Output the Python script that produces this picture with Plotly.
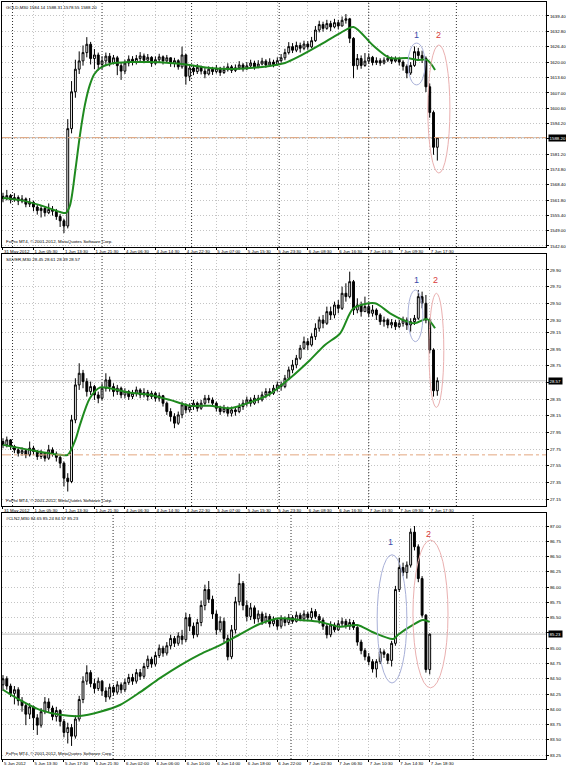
import plotly.graph_objects as go

W, H = 566, 768

# ---------------- DATA ----------------
time_labels_metals = ["31 May 2012", "1 Jun 05:30", "1 Jun 13:30", "1 Jun 21:30", "4 Jun 06:30",
                      "4 Jun 14:30", "4 Jun 22:30", "5 Jun 07:00", "5 Jun 15:30", "5 Jun 23:30",
                      "6 Jun 08:30", "6 Jun 16:30", "7 Jun 01:30", "7 Jun 09:30", "7 Jun 17:30"]
time_labels_crude = ["5 Jun 2012", "5 Jun 13:30", "5 Jun 17:30", "5 Jun 21:30", "6 Jun 02:00",
                     "6 Jun 06:00", "6 Jun 10:00", "6 Jun 14:00", "6 Jun 18:00", "6 Jun 22:00",
                     "7 Jun 02:30", "7 Jun 06:30", "7 Jun 10:30", "7 Jun 14:30", "7 Jun 18:30"]
time_label_bars = [0, 8, 16, 24, 32, 40, 48, 56, 64, 72, 80, 88, 96, 104, 112]
day_breaks_metals = [2.5, 26, 49.5, 72.5, 96, 119]
day_breaks_crude = [28.9, 75.6, 123.4]

# GOLD
gold_open0 = 1563.5
gold_close = [1562.5, 1563.8, 1562.0, 1563.0, 1561.5, 1562.4, 1560.2, 1561.0, 1559.0, 1557.5,
              1558.4, 1556.6, 1558.0, 1557.2, 1555.0, 1553.2, 1551.0, 1592.0, 1607.5, 1617.0,
              1620.5, 1624.0, 1627.5, 1621.5, 1623.0, 1619.0, 1620.5, 1622.5, 1619.8, 1621.8,
              1618.5, 1616.2, 1619.6, 1621.2, 1620.0, 1621.5, 1622.6, 1620.8, 1622.0, 1619.5,
              1621.0, 1622.2, 1620.5, 1621.8, 1619.4, 1620.6, 1618.0, 1623.0, 1614.0, 1617.5,
              1616.0, 1617.8, 1616.2, 1615.0, 1617.0, 1616.0, 1617.4, 1615.6, 1616.8, 1618.0,
              1616.5, 1617.6, 1618.8, 1617.2, 1618.4, 1619.6, 1618.0, 1619.2, 1620.4, 1618.8,
              1620.0, 1619.0, 1620.6, 1621.8, 1624.0, 1626.5, 1625.0, 1627.0, 1625.8, 1627.6,
              1626.4, 1629.0, 1633.5, 1635.8, 1634.2, 1636.2, 1634.8, 1636.6, 1635.2, 1637.6,
              1638.2, 1630.0, 1618.5, 1621.5, 1618.6, 1620.4, 1622.0, 1619.8, 1620.6, 1619.6,
              1620.8, 1621.6, 1620.4, 1621.2, 1620.0, 1618.2, 1615.4, 1618.6, 1624.4, 1622.8,
              1621.6, 1609.6, 1598.8, 1584.14, 1588.20]
gold_high = [1565.0, 1566.2, 1564.5, 1564.8, 1563.9, 1564.0, 1563.0, 1562.8, 1561.6, 1560.2,
             1559.8, 1559.2, 1560.5, 1559.4, 1558.2, 1556.0, 1554.0, 1596.0, 1612.0, 1621.0,
             1624.5, 1627.0, 1630.5, 1628.5, 1625.5, 1624.0, 1622.5, 1624.0, 1623.8, 1623.0,
             1622.6, 1620.0, 1621.0, 1622.8, 1622.5, 1623.0, 1624.2, 1623.6, 1623.4, 1622.5,
             1622.4, 1623.5, 1622.8, 1623.0, 1622.0, 1621.8, 1621.2, 1626.5, 1623.5, 1619.0,
             1618.6, 1619.2, 1618.5, 1617.5, 1618.2, 1618.0, 1618.8, 1618.0, 1618.4, 1619.5,
             1618.8, 1619.0, 1620.4, 1619.6, 1620.0, 1621.0, 1620.6, 1620.8, 1621.8, 1621.2,
             1621.6, 1621.0, 1622.0, 1623.4, 1625.6, 1628.4, 1628.0, 1628.6, 1628.2, 1629.0,
             1628.8, 1630.6, 1635.2, 1637.4, 1637.0, 1637.8, 1637.4, 1638.2, 1637.8, 1639.2,
             1640.2, 1638.6, 1630.5, 1623.4, 1622.8, 1623.8, 1623.6, 1622.6, 1622.0, 1621.6,
             1622.0, 1623.0, 1622.4, 1622.4, 1622.0, 1620.8, 1619.0, 1620.0, 1626.6, 1626.0,
             1624.8, 1622.4, 1611.0, 1599.6, 1588.31]
gold_low = [1561.0, 1561.8, 1560.5, 1561.2, 1559.8, 1560.6, 1558.9, 1559.0, 1557.2, 1555.8,
            1554.6, 1555.0, 1556.0, 1555.4, 1553.6, 1550.6, 1548.0, 1550.0, 1590.0, 1605.0,
            1615.0, 1618.5, 1622.0, 1619.0, 1617.0, 1616.5, 1617.0, 1618.8, 1618.2, 1619.0,
            1614.5, 1612.5, 1615.0, 1618.2, 1618.6, 1619.0, 1620.2, 1619.5, 1620.0, 1618.0,
            1618.8, 1620.0, 1619.0, 1620.0, 1618.0, 1617.8, 1616.8, 1617.2, 1610.5, 1612.0,
            1614.5, 1615.0, 1614.8, 1613.2, 1614.4, 1614.6, 1615.2, 1614.2, 1615.0, 1616.0,
            1615.4, 1615.8, 1616.8, 1616.0, 1616.6, 1617.8, 1616.8, 1617.4, 1618.6, 1617.6,
            1618.2, 1617.8, 1618.5, 1619.8, 1620.8, 1623.2, 1623.8, 1624.2, 1624.0, 1625.0,
            1625.2, 1625.8, 1628.5, 1632.5, 1632.8, 1633.6, 1633.0, 1634.2, 1633.8, 1635.0,
            1636.2, 1628.0, 1613.2, 1616.8, 1617.2, 1618.0, 1619.2, 1618.6, 1618.8, 1618.4,
            1619.0, 1620.0, 1619.2, 1619.8, 1618.6, 1616.4, 1613.2, 1614.6, 1618.0, 1621.0,
            1619.6, 1607.4, 1596.6, 1581.0, 1578.55]
gold_ma_bar = [0, 4.5, 9.7, 15, 16.5, 17.6, 19, 20.2, 21.5, 22.8, 24, 25.5, 28, 33, 38.6, 43.8,
               49, 54.3, 59.6, 64.8, 70, 74, 78, 83.2, 88.5, 92, 97, 101.6, 106, 108.7, 111.3, 113.4]
gold_ma = [1562.8, 1561.9, 1559.8, 1556.9, 1556.5, 1559.8, 1574.6, 1589.3, 1602.0, 1610.4,
           1615.0, 1617.5, 1619.2, 1620.0, 1620.0, 1619.6, 1618.8, 1617.5, 1617.1, 1617.5,
           1618.4, 1619.6, 1622.6, 1627.2, 1632.2, 1634.8, 1627.2, 1621.7, 1621.7, 1620.9,
           1620.9, 1616.7]
gold_ticks = [1639.40, 1632.80, 1626.40, 1620.00, 1613.60, 1607.00, 1600.60, 1594.20, 1587.80,
              1581.20, 1574.80, 1568.40, 1561.80, 1555.40, 1549.00, 1542.60]
gold_level = 1588.20

# SILVER
silver_open0 = 27.84
silver_close = [27.80, 27.86, 27.78, 27.74, 27.70, 27.73, 27.68, 27.76, 27.72, 27.66,
                27.70, 27.64, 27.74, 27.69, 27.65, 27.58, 27.40, 27.36, 28.10, 28.52,
                28.66, 28.56, 28.44, 28.50, 28.40, 28.36, 28.48, 28.58, 28.50, 28.44,
                28.48, 28.40, 28.44, 28.38, 28.42, 28.46, 28.40, 28.43, 28.38, 28.42,
                28.36, 28.39, 28.30, 28.20, 28.14, 28.06, 28.16, 28.28, 28.22, 28.26,
                28.30, 28.24, 28.30, 28.36, 28.34, 28.30, 28.24, 28.20, 28.24, 28.18,
                28.22, 28.20, 28.26, 28.30, 28.34, 28.30, 28.36, 28.34, 28.40, 28.44,
                28.42, 28.48, 28.52, 28.50, 28.60, 28.70, 28.76, 28.84, 28.96, 29.04,
                29.00, 29.10, 29.20, 29.30, 29.26, 29.40, 29.36, 29.48, 29.44, 29.62,
                29.58, 29.76, 29.42, 29.48, 29.40, 29.46, 29.38, 29.42, 29.36, 29.28,
                29.30, 29.24, 29.27, 29.22, 29.26, 29.30, 29.24, 29.28, 29.32, 29.58,
                29.50, 29.30, 28.94, 28.45, 28.57]
silver_high = [27.88, 27.90, 27.87, 27.80, 27.76, 27.77, 27.75, 27.84, 27.79, 27.74,
               27.74, 27.71, 27.80, 27.77, 27.72, 27.67, 27.60, 27.46, 28.16, 28.60,
               28.78, 28.70, 28.60, 28.56, 28.52, 28.44, 28.54, 28.66, 28.62, 28.54,
               28.52, 28.50, 28.48, 28.46, 28.46, 28.50, 28.48, 28.48, 28.46, 28.45,
               28.44, 28.43, 28.40, 28.32, 28.24, 28.18, 28.20, 28.32, 28.30, 28.30,
               28.34, 28.32, 28.34, 28.40, 28.40, 28.37, 28.32, 28.27, 28.28, 28.26,
               28.26, 28.25, 28.30, 28.34, 28.38, 28.37, 28.40, 28.40, 28.44, 28.48,
               28.48, 28.52, 28.56, 28.56, 28.64, 28.74, 28.82, 28.88, 29.00, 29.10,
               29.08, 29.14, 29.26, 29.34, 29.36, 29.46, 29.46, 29.52, 29.54, 29.70,
               29.74, 29.88, 29.78, 29.56, 29.52, 29.58, 29.50, 29.48, 29.44, 29.38,
               29.34, 29.32, 29.31, 29.30, 29.30, 29.34, 29.33, 29.32, 29.36, 29.66,
               29.64, 29.60, 29.32, 28.96, 28.61]
silver_low = [27.76, 27.77, 27.74, 27.70, 27.66, 27.67, 27.64, 27.66, 27.68, 27.62,
              27.63, 27.60, 27.62, 27.66, 27.60, 27.52, 27.30, 27.24, 27.34, 28.06,
              28.46, 28.48, 28.38, 28.40, 28.34, 28.30, 28.34, 28.44, 28.44, 28.38,
              28.40, 28.36, 28.36, 28.34, 28.35, 28.38, 28.36, 28.37, 28.33, 28.35,
              28.32, 28.32, 28.26, 28.16, 28.08, 28.00, 28.04, 28.12, 28.18, 28.19,
              28.22, 28.20, 28.22, 28.28, 28.30, 28.26, 28.20, 28.16, 28.18, 28.14,
              28.14, 28.15, 28.18, 28.22, 28.26, 28.26, 28.28, 28.30, 28.32, 28.36,
              28.38, 28.40, 28.44, 28.45, 28.48, 28.58, 28.66, 28.72, 28.82, 28.94,
              28.94, 28.98, 29.06, 29.16, 29.20, 29.24, 29.30, 29.32, 29.38, 29.42,
              29.52, 29.56, 29.36, 29.38, 29.34, 29.40, 29.34, 29.34, 29.30, 29.24,
              29.22, 29.20, 29.20, 29.18, 29.20, 29.22, 29.18, 29.16, 29.24, 29.30,
              29.44, 29.26, 28.90, 28.38, 28.39]
silver_ma_bar = [0, 7, 15, 17, 19, 20.2, 22.8, 25.5, 28, 33, 38.6, 43.8, 49, 54.3, 59.6, 64.8,
                 70, 75.3, 80.6, 84.5, 88.5, 92, 97.6, 101.6, 105, 108, 111.3, 113.4]
silver_ma = [27.80, 27.74, 27.68, 27.68, 27.86, 28.04, 28.36, 28.49, 28.48, 28.43, 28.40,
             28.34, 28.27, 28.27, 28.24, 28.31, 28.41, 28.60, 28.82, 29.00, 29.14, 29.44,
             29.50, 29.38, 29.30, 29.26, 29.31, 29.20]
silver_ticks = [29.90, 29.70, 29.50, 29.30, 29.15, 28.95, 28.75, 28.55, 28.35, 28.15,
                27.95, 27.75, 27.55, 27.35, 27.15]
silver_level = 28.57
silver_hline = 27.68

# CRUDE (#CLN2)
crude_open0 = 84.40
crude_close = [84.50, 84.38, 84.26, 84.32, 84.14, 84.06, 83.92, 84.04, 83.86, 83.74,
               83.96, 84.12, 84.02, 83.88, 83.98, 83.80, 83.62, 83.70, 83.56, 83.84,
               84.16, 84.46, 84.60, 84.42, 84.34, 84.46, 84.30, 84.20, 84.36, 84.28,
               84.40, 84.32, 84.44, 84.52, 84.46, 84.60, 84.54, 84.70, 84.82, 84.74,
               84.88, 85.00, 84.92, 85.04, 85.16, 85.08, 85.20, 85.14, 85.50, 85.36,
               85.22, 85.42, 85.70, 85.96, 85.80, 85.56, 85.30, 85.44, 85.16, 84.86,
               85.30, 85.76, 86.06, 85.70, 85.52, 85.66, 85.48, 85.56, 85.44, 85.52,
               85.40, 85.46, 85.36, 85.48, 85.42, 85.50, 85.44, 85.54, 85.48, 85.56,
               85.50, 85.60, 85.52, 85.46, 85.36, 85.22, 85.38, 85.30, 85.40, 85.44,
               85.36, 85.42, 85.34, 85.10, 84.96, 84.86, 84.78, 84.66, 84.78, 84.94,
               84.90, 84.80, 85.08, 85.96, 86.32, 86.24, 86.36, 86.90, 86.66, 86.14,
               85.54, 84.65, 85.23]
crude_high = [84.56, 84.54, 84.42, 84.38, 84.36, 84.20, 84.10, 84.10, 84.06, 83.92,
              84.02, 84.20, 84.18, 84.06, 84.04, 84.00, 83.84, 83.78, 83.76, 83.90,
              84.22, 84.54, 84.72, 84.64, 84.50, 84.52, 84.48, 84.36, 84.42, 84.40,
              84.46, 84.44, 84.50, 84.58, 84.58, 84.66, 84.66, 84.76, 84.88, 84.86,
              84.94, 85.06, 85.04, 85.10, 85.22, 85.20, 85.26, 85.30, 85.58, 85.56,
              85.42, 85.48, 85.78, 86.04, 86.10, 85.86, 85.62, 85.52, 85.50, 85.22,
              85.38, 85.84, 86.22, 86.10, 85.78, 85.74, 85.70, 85.62, 85.60, 85.58,
              85.56, 85.52, 85.50, 85.54, 85.52, 85.56, 85.54, 85.60, 85.58, 85.62,
              85.60, 85.66, 85.64, 85.56, 85.50, 85.40, 85.44, 85.42, 85.46, 85.50,
              85.48, 85.48, 85.46, 85.36, 85.14, 85.00, 84.92, 84.82, 84.82, 85.00,
              84.98, 84.92, 85.12, 86.02, 86.48, 86.40, 86.42, 86.96, 87.00, 86.70,
              86.18, 85.56, 85.24]
crude_low = [84.30, 84.32, 84.20, 84.08, 84.06, 83.96, 83.74, 83.84, 83.66, 83.58,
             83.70, 83.92, 83.94, 83.82, 83.80, 83.72, 83.54, 83.44, 83.40, 83.52,
             83.80, 84.10, 84.40, 84.36, 84.26, 84.30, 84.22, 84.12, 84.16, 84.22,
             84.24, 84.26, 84.28, 84.40, 84.40, 84.42, 84.48, 84.50, 84.66, 84.68,
             84.70, 84.84, 84.86, 84.88, 84.98, 85.02, 85.04, 85.06, 85.10, 85.28,
             85.16, 85.18, 85.36, 85.62, 85.74, 85.48, 85.22, 85.26, 85.10, 84.80,
             84.82, 85.24, 85.70, 85.62, 85.44, 85.46, 85.40, 85.42, 85.38, 85.40,
             85.34, 85.36, 85.30, 85.32, 85.36, 85.38, 85.40, 85.42, 85.44, 85.44,
             85.46, 85.46, 85.48, 85.40, 85.30, 85.16, 85.18, 85.26, 85.28, 85.36,
             85.32, 85.30, 85.30, 85.04, 84.90, 84.80, 84.72, 84.60, 84.52, 84.74,
             84.84, 84.74, 84.70, 85.04, 85.92, 86.18, 86.14, 86.32, 86.60, 86.08,
             85.50, 84.60, 84.57]
crude_ma_bar = [0, 4.5, 9.7, 15, 20.2, 25.5, 30.7, 36, 41.2, 46.5, 51.7, 57, 62, 67.5, 72.7,
                78, 83.2, 88.5, 93, 97.1, 102.4, 103.7, 107.6, 110.2, 112]
crude_ma = [84.32, 84.15, 83.99, 83.91, 83.89, 83.96, 84.07, 84.28, 84.51, 84.72, 84.90,
            85.05, 85.22, 85.40, 85.49, 85.46, 85.43, 85.35, 85.38, 85.26, 85.15, 85.22,
            85.38, 85.46, 85.43]
crude_ticks = [87.00, 86.75, 86.50, 86.25, 86.00, 85.75, 85.50, 85.25, 85.00, 84.75,
               84.50, 84.25, 84.00, 83.75, 83.50, 83.25]
crude_level = 85.23

headers = ["GOLD,M30 1584.14 1588.31 1578.55 1588.20",
           "SILVER,M30 28.45 28.61 28.39 28.57",
           "#CLN2,M30 84.65 85.24 84.57 85.23"]
footer = "FxPro MT4, \u00a9 2001-2012, MetaQuotes Software Corp."

# ---------------- LAYOUT ----------------
FONT = "Liberation Sans, Arial, sans-serif"
FS = 4.4
def px_x(p):
    return p / W
def px_y(p):
    return 1 - p / H

x_dom = [px_x(2), px_x(546)]
panels = [
    dict(ydom=[px_y(247), px_y(2)], yr=[1542.17, 1645.29]),
    dict(ydom=[px_y(506), px_y(254)], yr=[27.066, 30.092]),
    dict(ydom=[px_y(759), px_y(513)], yr=[83.186, 87.213]),
]
xr = [-0.26, 142.52]

def opens(o0, closes):
    return [o0] + closes[:-1]

series = [
    (gold_open0, gold_close, gold_high, gold_low, gold_ma_bar, gold_ma, gold_ticks, gold_level),
    (silver_open0, silver_close, silver_high, silver_low, silver_ma_bar, silver_ma, silver_ticks, silver_level),
    (crude_open0, crude_close, crude_high, crude_low, crude_ma_bar, crude_ma, crude_ticks, crude_level),
]

fig = go.Figure()
shapes = []
annotations = []
GRID = "#c4c4c4"

for k, (o0, c, h, l, mab, ma, ticks, level) in enumerate(series):
    xa = "x" if k == 0 else f"x{k+1}"
    ya = "y" if k == 0 else f"y{k+1}"
    idx = list(range(len(c)))
    shapes.append(dict(type="line", xref=f"{xa} domain", yref=ya, x0=0, x1=1, y0=level, y1=level,
                       line=dict(color="#c0c0c0", width=1), layer="below"))
    fig.add_trace(go.Candlestick(
        x=idx, open=opens(o0, c), high=h, low=l, close=c, xaxis=xa, yaxis=ya,
        increasing=dict(line=dict(color="black", width=1), fillcolor="white"),
        decreasing=dict(line=dict(color="black", width=1), fillcolor="black"),
        whiskerwidth=0, showlegend=False, hoverinfo="skip"))
    fig.add_trace(go.Scatter(x=mab, y=ma, mode="lines", xaxis=xa, yaxis=ya,
                             line=dict(color="#1f8a1f", width=2, shape="spline", smoothing=0.8),
                             showlegend=False, hoverinfo="skip"))
    tlabels = time_labels_metals if k < 2 else time_labels_crude
    breaks = day_breaks_metals if k < 2 else day_breaks_crude
    ax_key = "xaxis" if k == 0 else f"xaxis{k+1}"
    ay_key = "yaxis" if k == 0 else f"yaxis{k+1}"
    fig.layout[ax_key] = dict(domain=x_dom, anchor=ya, range=xr, tickvals=time_label_bars,
                              ticktext=tlabels, ticks="outside", ticklen=2, tickcolor="black",
                              tickangle=0, automargin=False,
                              ticklabelposition="outside right", ticklabeloverflow="allow",
                              tickfont=dict(size=FS, color="black", family=FONT),
                              showgrid=True, gridcolor=GRID, griddash="1px,2px", gridwidth=1,
                              showline=True, mirror=True, linecolor="black", linewidth=1,
                              zeroline=False, rangeslider=dict(visible=False), fixedrange=True)
    ticktext = ["" if abs(t - level) < 0.3 * abs(ticks[0] - ticks[1]) else f"{t:.2f}" for t in ticks]
    fig.layout[ay_key] = dict(domain=panels[k]["ydom"], anchor=xa, range=panels[k]["yr"], side="right",
                              tickvals=ticks, ticktext=ticktext, ticks="outside", ticklen=2,
                              tickcolor="black", tickfont=dict(size=FS, color="black", family=FONT),
                              automargin=False, ticklabeloverflow="allow",
                              showgrid=True, gridcolor=GRID, griddash="1px,2px", gridwidth=1,
                              showline=True, mirror=True, linecolor="black", linewidth=1,
                              zeroline=False, fixedrange=True)
    for b in breaks:
        shapes.append(dict(type="line", xref=xa, yref=f"{ya} domain", x0=b, x1=b, y0=0, y1=1,
                           line=dict(color="#303030", width=1, dash="1px,2px")))
    annotations.append(dict(text=headers[k], xref="paper", yref=f"{ya} domain", x=px_x(4), y=1,
                            xanchor="left", yanchor="top", yshift=-1, showarrow=False,
                            font=dict(size=FS, color="black", family=FONT)))
    annotations.append(dict(text=footer, xref="paper", yref=f"{ya} domain", x=px_x(4), y=0,
                            xanchor="left", yanchor="bottom", yshift=1, showarrow=False,
                            font=dict(size=FS, color="black", family=FONT)))
    annotations.append(dict(text=f"{level:.2f}", xref="paper", yref=ya, x=px_x(547.5), y=level,
                            xanchor="left", yanchor="middle", showarrow=False, bgcolor="black",
                            borderpad=0.5, font=dict(size=FS, color="white", family=FONT)))

shapes.append(dict(type="line", xref="x domain", yref="y", x0=0, x1=1, y0=gold_level, y1=gold_level,
                   line=dict(color="#e3a77f", width=1, dash="dashdot")))
shapes.append(dict(type="line", xref="x2 domain", yref="y2", x0=0, x1=1, y0=silver_hline, y1=silver_hline,
                   line=dict(color="#e3a77f", width=1, dash="dashdot")))

marks = [
    ("x", "y", (106.3, 110.8, 1610.4, 1628.0), (111.5, 117.3, 1573.3, 1627.2), (108.4, 1631.4), (114.4, 1631.4)),
    ("x2", "y2", (106.3, 110.2, 29.04, 29.66), (111.8, 115.7, 28.25, 29.62), (108.4, 29.78), (113.6, 29.78)),
    ("x3", "y3", (98.2, 106.0, 84.43, 86.53), (107.6, 116.8, 84.35, 86.77), (101.8, 86.74), (111.8, 86.87)),
]
for xa, ya, e1, e2, t1, t2 in marks:
    shapes.append(dict(type="circle", xref=xa, yref=ya, x0=e1[0], x1=e1[1], y0=e1[2], y1=e1[3],
                       line=dict(color="#a8b0d8", width=1)))
    shapes.append(dict(type="circle", xref=xa, yref=ya, x0=e2[0], x1=e2[1], y0=e2[2], y1=e2[3],
                       line=dict(color="#eab0b0", width=1)))
    annotations.append(dict(text="1", xref=xa, yref=ya, x=t1[0], y=t1[1], showarrow=False,
                            font=dict(size=9, color="#3a4aa8", family=FONT)))
    annotations.append(dict(text="2", xref=xa, yref=ya, x=t2[0], y=t2[1], showarrow=False,
                            font=dict(size=9, color="#d83a3a", family=FONT)))

fig.update_layout(template="none", width=W, height=H, margin=dict(l=0, r=0, t=0, b=0, pad=0),
                  paper_bgcolor="white", plot_bgcolor="white", shapes=shapes,
                  annotations=annotations, showlegend=False,
                  font=dict(family=FONT, size=FS, color="black"))

fig.write_html("out.html", config={"displayModeBar": False},
               post_script="document.body.style.margin='0';document.body.style.overflow='hidden';")
